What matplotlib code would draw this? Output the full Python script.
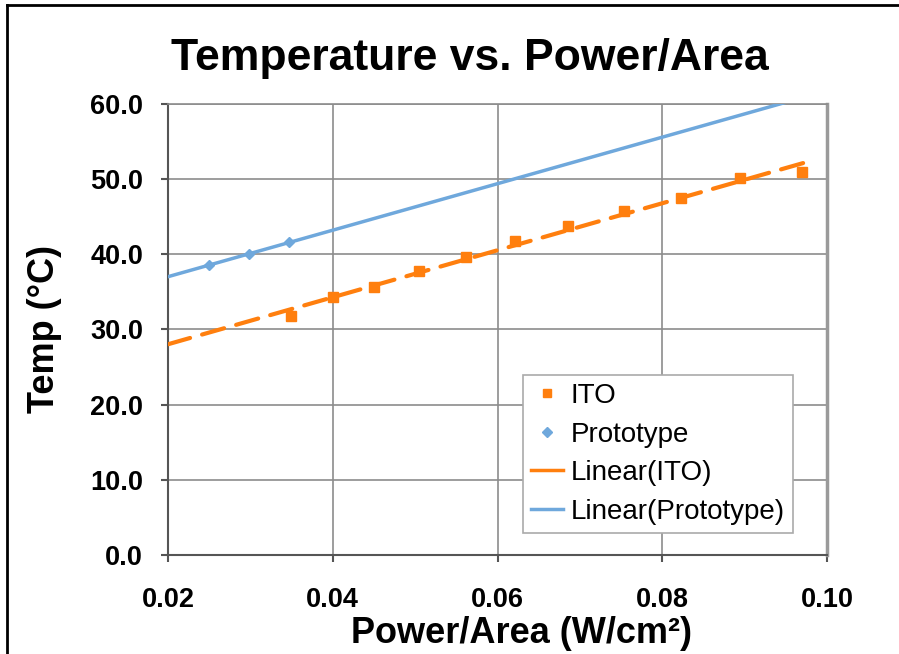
import numpy as np
import matplotlib.pyplot as plt
from matplotlib.lines import Line2D

# data
ito_x = [0.0349, 0.0400, 0.0450, 0.0505, 0.0562, 0.0621, 0.0686, 0.0754, 0.0823, 0.0894, 0.0970]
ito_y = [31.8, 34.3, 35.6, 37.8, 39.6, 41.8, 43.8, 45.7, 47.5, 50.1, 50.9]
proto_x = [0.0250, 0.0298, 0.0347]
proto_y = [38.6, 40.0, 41.6]
xticks = [0.02, 0.04, 0.06, 0.08, 0.10]
yticks = [0, 10, 20, 30, 40, 50, 60]

orange = '#ff7f0e'
blue = '#6fa8dc'

plt.rcParams['font.family'] = ['Liberation Sans', 'DejaVu Sans']

fig = plt.figure(figsize=(8.99, 6.54), dpi=100)
ax = fig.add_axes([0.1869, 0.1514, 0.7331, 0.6896])

# trend lines (least squares, extended back to 0.02)
trend_x = np.linspace(0.02, 0.0975, 50)
a1, b1 = np.polyfit(ito_x, ito_y, 1)
a2, b2 = np.polyfit(proto_x, proto_y, 1)

ax.plot(ito_x, ito_y, 's', color=orange, ms=7, zorder=3)
ax.plot(proto_x, proto_y, 'D', color=blue, ms=5, zorder=3)
ax.plot(trend_x, a1 * trend_x + b1, color=orange, lw=3, dashes=(5.5, 3),
        dash_capstyle='round', zorder=4)
ax.plot(trend_x, a2 * trend_x + b2, color=blue, lw=2.5, zorder=4)

ax.set_xlim(0.02, 0.10)
ax.set_ylim(0, 60)
ax.set_xticks(xticks)
ax.set_yticks(yticks)
ax.set_xticklabels(['%.2f' % v for v in xticks])
ax.set_yticklabels(['%.1f' % v for v in yticks])
ax.tick_params(labelsize=19.5, length=5, width=1.5, color='#555555')
for lab in ax.get_xticklabels() + ax.get_yticklabels():
    lab.set_fontweight('bold')
ax.tick_params(axis='x', pad=18)
ax.tick_params(axis='y', pad=13)

ax.grid(True, color='#8c8c8c', lw=1.2)
ax.set_axisbelow(True)
for s in ['left', 'bottom']:
    ax.spines[s].set_color('#555555')
    ax.spines[s].set_linewidth(1.5)
ax.spines['top'].set_color('#8c8c8c')
ax.spines['top'].set_linewidth(1.2)
ax.spines['right'].set_color('#9a9a9a')
ax.spines['right'].set_linewidth(2.5)

ax.set_xlabel('Power/Area (W/cm²)', fontsize=26, fontweight='bold')
ax.xaxis.set_label_coords(0.537, -0.135)
ax.set_ylabel('Temp (°C)', fontsize=26, fontweight='bold', labelpad=20)
fig.text(0.523, 0.91, 'Temperature vs. Power/Area', ha='center', va='center',
         fontsize=32, fontweight='bold')

handles = [
    Line2D([], [], ls='none', marker='s', color=orange, ms=6),
    Line2D([], [], ls='none', marker='D', color=blue, ms=5),
    Line2D([], [], color=orange, lw=2.5),
    Line2D([], [], color=blue, lw=2.5),
]
labels = ['ITO', 'Prototype', 'Linear(ITO)', 'Linear(Prototype)']
leg = ax.legend(handles, labels, loc='lower right', bbox_to_anchor=(0.948, 0.049),
                fontsize=20, frameon=True, fancybox=False, handlelength=1.15,
                handletextpad=0.25, borderpad=0.3, labelspacing=0.45,
                borderaxespad=0)
leg.get_frame().set_edgecolor('#aaaaaa')
leg.get_frame().set_linewidth(1.2)
leg.get_frame().set_alpha(1)

# outer chart border
fig.add_artist(Line2D([0.008, 0.008], [0, 0.992], color='black', lw=2, transform=fig.transFigure))
fig.add_artist(Line2D([0.008, 1], [0.992, 0.992], color='black', lw=2, transform=fig.transFigure))

fig.savefig('out.png', dpi=100)
